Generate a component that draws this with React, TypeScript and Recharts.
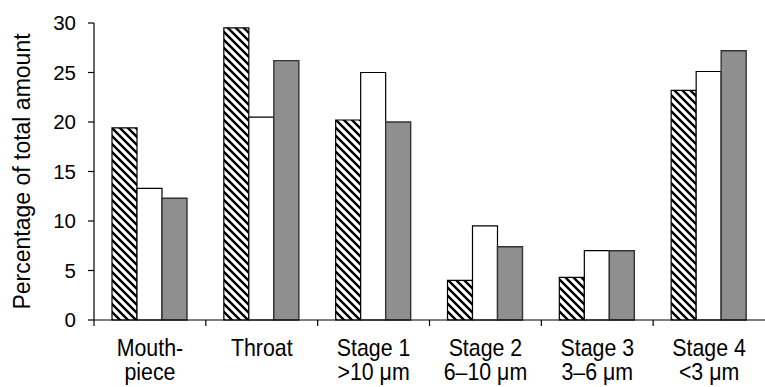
import { Bar, BarChart, XAxis, YAxis } from "recharts"

const categories = ["Mouthpiece", "Throat", "Stage 1", "Stage 2", "Stage 3", "Stage 4"]
const labelTop = ["Mouth-", "Throat", "Stage 1", "Stage 2", "Stage 3", "Stage 4"]
const labelBottom = ["piece", "", ">10 \u03bcm", "6\u201310 \u03bcm", "3\u20136 \u03bcm", "<3 \u03bcm"]
const hatched = [19.4, 29.5, 20.2, 4.0, 4.3, 23.2]
const white = [13.3, 20.5, 25.0, 9.5, 7.0, 25.1]
const grey = [12.3, 26.2, 20.0, 7.4, 7.0, 27.2]
const yTicks = [0, 5, 10, 15, 20, 25, 30]

const data = categories.map((name, i) => ({
  name,
  hatched: hatched[i],
  white: white[i],
  grey: grey[i],
}))

const font = "'Liberation Sans', Arial, Helvetica, sans-serif"

// category labels sit between boundary ticks, in a narrowed face
function CategoryTick(props: any) {
  const { x, y, index, width } = props
  const band = width / categories.length
  const left = x - band / 2
  return (
    <g>
      <line x1={left} x2={left} y1={y - 6} y2={y} stroke="#000" strokeWidth={1.2} />
      <g transform={`translate(${x},${y}) scale(0.89,1)`}>
        <text x={0} y={30.5} textAnchor="middle" fontSize={24} fontFamily={font} fill="#000">
          <tspan x={0}>{labelTop[index]}</tspan>
          {labelBottom[index] && (
            <tspan x={0} dy={24}>
              {labelBottom[index]}
            </tspan>
          )}
        </text>
      </g>
    </g>
  )
}

export default function App() {
  return (
    <div style={{ position: "fixed", top: 0, left: 0, background: "#fff" }}>
      <BarChart
        width={765}
        height={387}
        data={data}
        margin={{ top: 23, right: 0, left: 0, bottom: 0 }}
        barCategoryGap={18}
        barGap={0}
      >
        <defs>
          <pattern id="hatch" patternUnits="userSpaceOnUse" width={8} height={8}>
            <rect width={8} height={8} fill="#fff" />
            <path d="M-1,-1 L9,9 M-1,7 L1,9 M7,-1 L9,1" stroke="#000" strokeWidth={2.4} />
          </pattern>
        </defs>
        <XAxis
          dataKey="name"
          axisLine={{ stroke: "#000", strokeWidth: 1.2 }}
          tickLine={false}
          tickSize={6}
          tickMargin={0}
          interval={0}
          tick={<CategoryTick />}
          height={67}
        />
        <YAxis
          domain={[0, 30]}
          ticks={yTicks}
          width={94}
          axisLine={{ stroke: "#000", strokeWidth: 1.2 }}
          tickLine={{ stroke: "#000", strokeWidth: 1.2 }}
          tickSize={6}
          tickMargin={12}
          tick={{ fill: "#000", fontSize: 20.5, fontFamily: font }}
          label={{
            value: "Percentage of total amount",
            angle: -90,
            position: "insideLeft",
            offset: 22,
            style: { textAnchor: "middle", fontSize: 23, fontFamily: font, fill: "#000" },
          }}
        />
        <Bar dataKey="hatched" fill="url(#hatch)" stroke="#000" strokeWidth={1.2} isAnimationActive={false} />
        <Bar dataKey="white" fill="#fff" stroke="#000" strokeWidth={1.2} isAnimationActive={false} />
        <Bar dataKey="grey" fill="#8f8f8f" stroke="#333" strokeWidth={1.4} isAnimationActive={false} />
      </BarChart>
    </div>
  )
}
